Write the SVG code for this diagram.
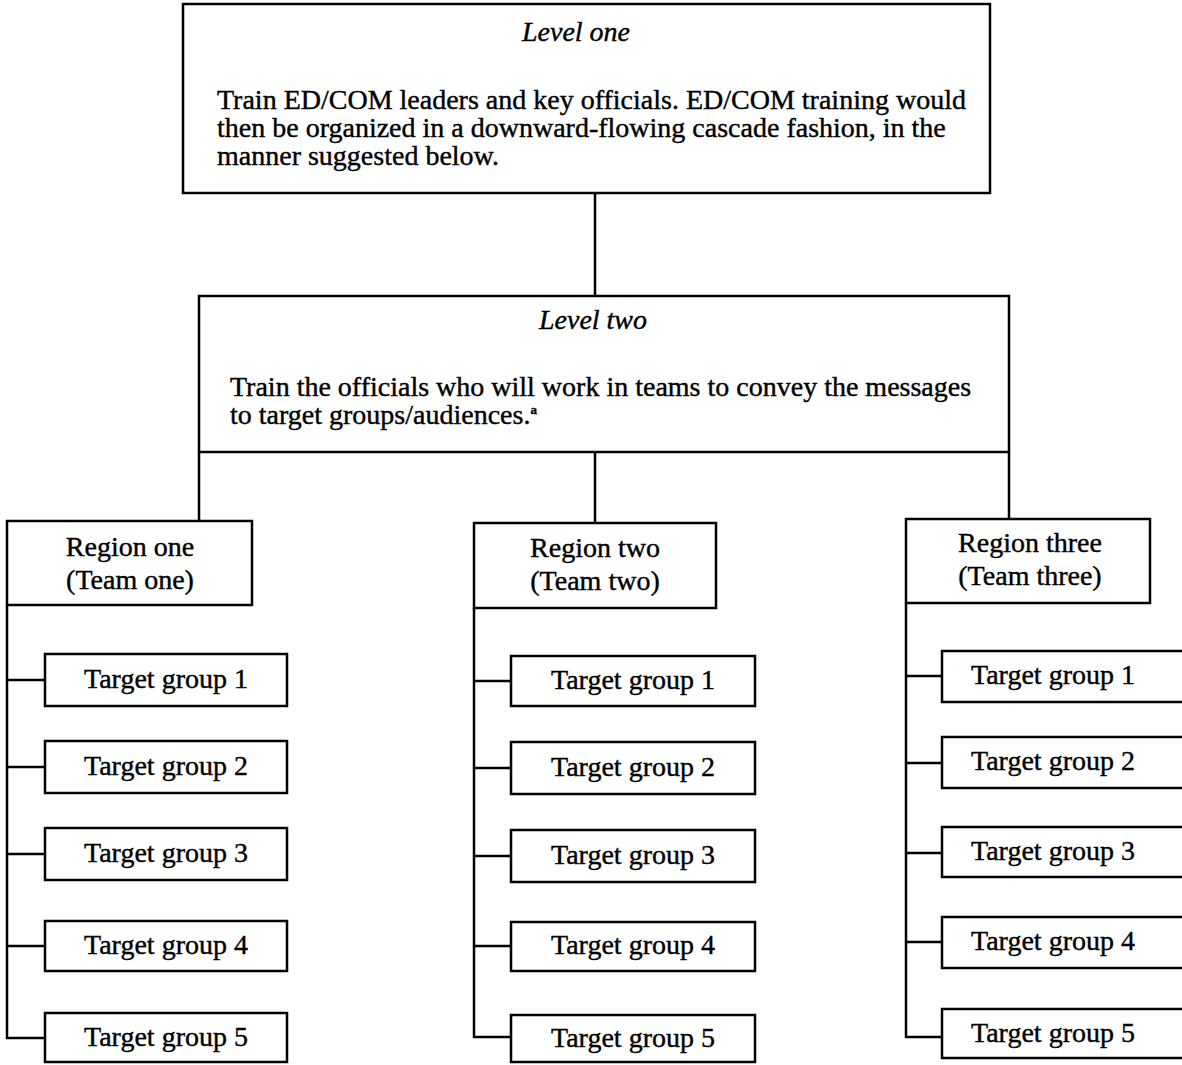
<svg xmlns="http://www.w3.org/2000/svg" width="1182" height="1065" viewBox="0 0 1182 1065">
<style>
  .box { fill: #ffffff; stroke: #000000; stroke-width: 2.5; }
  .conn { fill: none; stroke: #000000; stroke-width: 2.5; }
  text { font-family: "Liberation Serif", "Times New Roman", serif; font-size: 28px; fill: #000000; stroke: #000000; stroke-width: 0.4; }
  .c { text-anchor: middle; }
  .it { font-style: italic; }
</style>
<rect width="1182" height="1065" fill="#ffffff"/>
<g id="connectors">
  <line class="conn" x1="595" y1="193" x2="595" y2="296"/>
  <line class="conn" x1="199" y1="452" x2="199" y2="521"/>
  <line class="conn" x1="595" y1="452" x2="595" y2="523"/>
  <line class="conn" x1="1009" y1="452" x2="1009" y2="519"/>
  <polyline class="conn" points="7,605 7,1038 45,1038"/>
  <line class="conn" x1="7" y1="680" x2="45" y2="680"/>
  <line class="conn" x1="7" y1="767" x2="45" y2="767"/>
  <line class="conn" x1="7" y1="854" x2="45" y2="854"/>
  <line class="conn" x1="7" y1="946" x2="45" y2="946"/>
  <polyline class="conn" points="474,608 474,1037 511,1037"/>
  <line class="conn" x1="474" y1="681" x2="511" y2="681"/>
  <line class="conn" x1="474" y1="768" x2="511" y2="768"/>
  <line class="conn" x1="474" y1="856" x2="511" y2="856"/>
  <line class="conn" x1="474" y1="946" x2="511" y2="946"/>
  <polyline class="conn" points="906,603 906,1037 942,1037"/>
  <line class="conn" x1="906" y1="676" x2="942" y2="676"/>
  <line class="conn" x1="906" y1="763" x2="942" y2="763"/>
  <line class="conn" x1="906" y1="853" x2="942" y2="853"/>
  <line class="conn" x1="906" y1="942" x2="942" y2="942"/>
</g>
<g id="level-one">
  <rect class="box" x="183" y="4" width="807" height="189"/>
  <text class="c it" x="576" y="41">Level one</text>
  <text x="217" y="109">Train ED/COM leaders and key officials. ED/COM training would</text>
  <text x="217" y="137">then be organized in a downward-flowing cascade fashion, in the</text>
  <text x="217" y="165">manner suggested below.</text>
</g>
<g id="level-two">
  <rect class="box" x="199" y="296" width="810" height="156"/>
  <text class="c it" x="593" y="329">Level two</text>
  <text x="230" y="396">Train the officials who will work in teams to convey the messages</text>
  <text x="230" y="424">to target groups/audiences.<tspan font-size="13" font-weight="bold" dy="-10">a</tspan></text>
</g>
<g id="region-one">
  <rect class="box" x="7" y="521" width="245" height="84"/>
  <text class="c" x="130" y="556">Region one</text>
  <text class="c" x="130" y="589">(Team one)</text>
</g>
<g id="region-two">
  <rect class="box" x="474" y="523" width="242" height="85"/>
  <text class="c" x="595" y="557">Region two</text>
  <text class="c" x="595" y="590">(Team two)</text>
</g>
<g id="region-three">
  <rect class="box" x="906" y="519" width="244" height="84"/>
  <text class="c" x="1030" y="552">Region three</text>
  <text class="c" x="1030" y="585">(Team three)</text>
</g>
<g id="r1-tg1"><rect class="box" x="45" y="654" width="242" height="52"/><text class="c" x="166" y="688">Target group 1</text></g>
<g id="r1-tg2"><rect class="box" x="45" y="741" width="242" height="52"/><text class="c" x="166" y="775">Target group 2</text></g>
<g id="r1-tg3"><rect class="box" x="45" y="828" width="242" height="52"/><text class="c" x="166" y="862">Target group 3</text></g>
<g id="r1-tg4"><rect class="box" x="45" y="921" width="242" height="50"/><text class="c" x="166" y="954">Target group 4</text></g>
<g id="r1-tg5"><rect class="box" x="45" y="1013" width="242" height="49"/><text class="c" x="166" y="1046">Target group 5</text></g>
<g id="r2-tg1"><rect class="box" x="511" y="656" width="244" height="50"/><text class="c" x="633" y="689">Target group 1</text></g>
<g id="r2-tg2"><rect class="box" x="511" y="742" width="244" height="52"/><text class="c" x="633" y="776">Target group 2</text></g>
<g id="r2-tg3"><rect class="box" x="511" y="830" width="244" height="52"/><text class="c" x="633" y="864">Target group 3</text></g>
<g id="r2-tg4"><rect class="box" x="511" y="922" width="244" height="49"/><text class="c" x="633" y="954">Target group 4</text></g>
<g id="r2-tg5"><rect class="box" x="511" y="1015" width="244" height="47"/><text class="c" x="633" y="1047">Target group 5</text></g>
<g id="r3-tg1"><rect class="box" x="942" y="651" width="260" height="51"/><text class="c" x="1053" y="684">Target group 1</text></g>
<g id="r3-tg2"><rect class="box" x="942" y="737" width="260" height="51"/><text class="c" x="1053" y="770">Target group 2</text></g>
<g id="r3-tg3"><rect class="box" x="942" y="827" width="260" height="50"/><text class="c" x="1053" y="860">Target group 3</text></g>
<g id="r3-tg4"><rect class="box" x="942" y="917" width="260" height="51"/><text class="c" x="1053" y="950">Target group 4</text></g>
<g id="r3-tg5"><rect class="box" x="942" y="1009" width="260" height="49"/><text class="c" x="1053" y="1042">Target group 5</text></g>
</svg>
